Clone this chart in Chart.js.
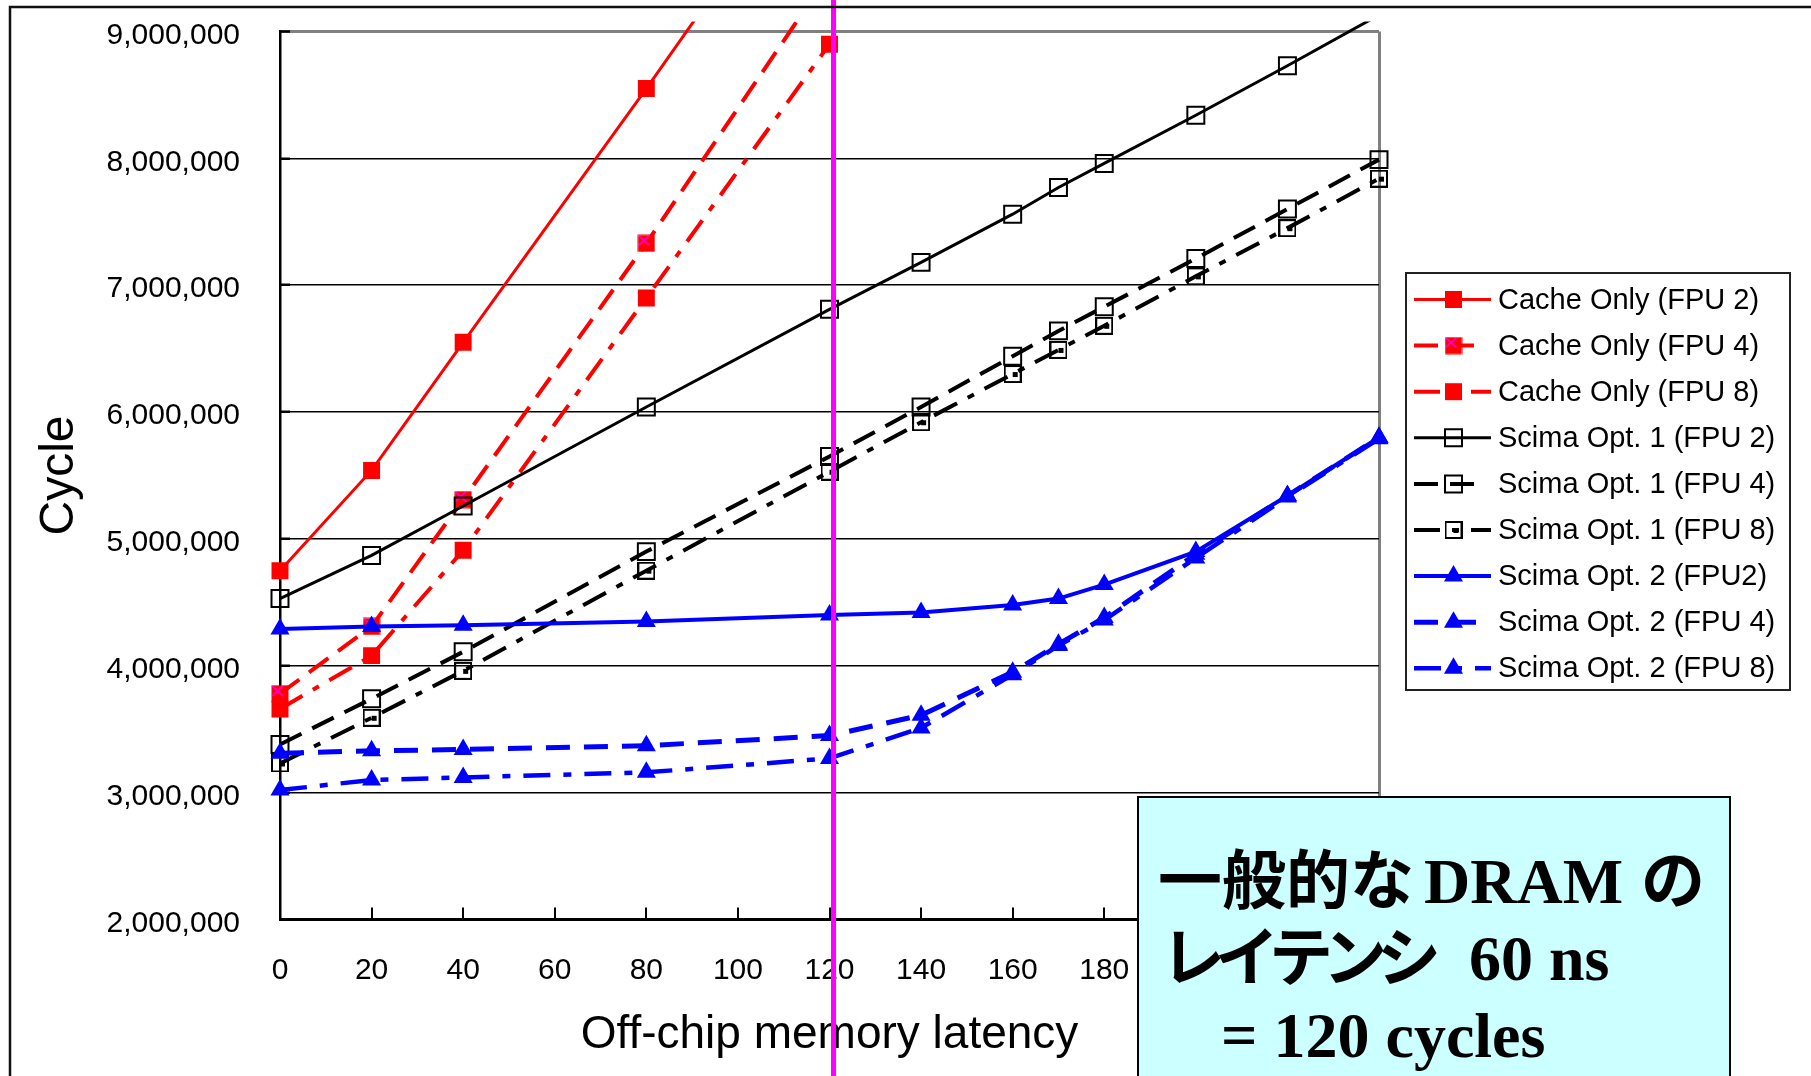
<!DOCTYPE html>
<html>
<head>
<meta charset="utf-8">
<script src="https://cdn.jsdelivr.net/npm/chart.js@4.4.1/dist/chart.umd.min.js"></script>
<style>
  html, body { margin: 0; padding: 0; background: #fff; }
  canvas { display: block; }
</style>
</head>
<body>
<canvas id="chart" width="1811" height="1076"></canvas>
<script>
// off-chip latency (cycles) on the x axis
const latency = [0, 20, 40, 80, 120, 140, 160, 170, 180, 200, 220, 240];

// total cycles per configuration
const cacheFpu2 = [4750000, 5540000, 6550000, 8550000, 10600000, null, null, null, null, null, null, null];
const cacheFpu4 = [3780000, 4310000, 5310000, 7330000, 9460000, null, null, null, null, null, null, null];
const cacheFpu8 = [3660000, 4080000, 4910000, 6900000, 8900000, null, null, null, null, null, null, null];
const scima1Fpu2 = [4530000, 4870000, 5260000, 6040000, 6810000, 7180000, 7560000, 7770000, 7960000, 8340000, 8730000, 9130000];
const scima1Fpu4 = [3380000, 3740000, 4110000, 4900000, 5650000, 6040000, 6440000, 6640000, 6830000, 7210000, 7600000, 7990000];
const scima1Fpu8 = [3230000, 3590000, 3960000, 4750000, 5530000, 5920000, 6300000, 6490000, 6680000, 7070000, 7450000, 7840000];
const scima2Fpu2 = [4290000, 4310000, 4320000, 4350000, 4400000, 4420000, 4480000, 4530000, 4640000, 4900000, 5340000, 5800000];
const scima2Fpu4 = [3310000, 3330000, 3340000, 3370000, 3450000, 3610000, 3950000, 4170000, 4380000, 4880000, 5340000, 5800000];
const scima2Fpu8 = [3020000, 3100000, 3120000, 3160000, 3270000, 3510000, 3930000, 4160000, 4360000, 4850000, 5330000, 5790000];

const seriesLabels = [
  "Cache Only (FPU 2)", "Cache Only (FPU 4)", "Cache Only (FPU 8)",
  "Scima Opt. 1 (FPU 2)", "Scima Opt. 1 (FPU 4)", "Scima Opt. 1 (FPU 8)",
  "Scima Opt. 2 (FPU2)", "Scima Opt. 2 (FPU 4)", "Scima Opt. 2 (FPU 8)"
];

const yTicks = { min: 2000000, max: 9000000, step: 1000000 };
const xTicks = { min: 0, max: 240, step: 20 };
const dramLatency = 120;

const RED = "#ff0000";
const BLACK = "#000000";
const BLUE = "#0000ff";
const SANS = '"Liberation Sans", Arial, sans-serif';

// small canvases for the two odd markers
function makeMarker(draw) {
  const c = document.createElement("canvas");
  c.width = 18;
  c.height = 18;
  draw(c.getContext("2d"));
  return c;
}
const redSquareX = makeMarker(g => {
  g.fillStyle = RED;
  g.fillRect(0.5, 0.5, 17, 17);
  g.strokeStyle = "#ff00ff";
  g.lineWidth = 1.5;
  g.beginPath();
  g.moveTo(1, 1); g.lineTo(12, 11);
  g.moveTo(12, 1); g.lineTo(1, 11);
  g.stroke();
});
const squareDot = makeMarker(g => {
  g.strokeStyle = BLACK;
  g.lineWidth = 2;
  g.strokeRect(1, 1, 16, 16);
  g.fillStyle = BLACK;
  g.fillRect(9, 7, 5, 5);
});

function toPoints(values) {
  return latency.map((x, i) => ({ x, y: values[i] }));
}

// legendEnd: where the little sample line in the legend stops
const styles = [
  { values: cacheFpu2, color: RED, width: 3, dash: [], point: "rect", radius: 12, fill: RED, pbw: 0, legendEnd: 1491 },
  { values: cacheFpu4, color: RED, width: 4, dash: [24, 12], point: redSquareX, radius: 9, fill: RED, pbw: 0, legendEnd: 1476 },
  { values: cacheFpu8, color: RED, width: 4, dash: [26, 12, 7, 12], point: "rect", radius: 12, fill: RED, pbw: 0, legendEnd: 1491 },
  { values: scima1Fpu2, color: BLACK, width: 3, dash: [], point: "rect", radius: 12, fill: "rgba(0,0,0,0)", pbw: 2, legendEnd: 1491 },
  { values: scima1Fpu4, color: BLACK, width: 4, dash: [24, 12], point: "rect", radius: 12, fill: "rgba(0,0,0,0)", pbw: 2, legendEnd: 1476 },
  { values: scima1Fpu8, color: BLACK, width: 4, dash: [26, 12, 7, 12], point: squareDot, radius: 9, fill: "rgba(0,0,0,0)", pbw: 2, legendEnd: 1491 },
  { values: scima2Fpu2, color: BLUE, width: 4, dash: [], point: "triangle", radius: 11, fill: BLUE, pbw: 0, legendEnd: 1491 },
  { values: scima2Fpu4, color: BLUE, width: 5, dash: [24, 14], point: "triangle", radius: 11, fill: BLUE, pbw: 0, legendEnd: 1476 },
  { values: scima2Fpu8, color: BLUE, width: 4.5, dash: [27, 13, 8, 13], point: "triangle", radius: 11, fill: BLUE, pbw: 0, legendEnd: 1491 }
];

const datasets = styles.map((s, i) => ({
  label: seriesLabels[i],
  data: toPoints(s.values),
  borderColor: s.color,
  borderWidth: s.width,
  borderDash: s.dash,
  pointStyle: s.point,
  pointRadius: s.radius,
  pointBackgroundColor: s.fill,
  pointBorderColor: s.color,
  pointBorderWidth: s.pbw,
  tension: 0,
  spanGaps: false,
  order: styles.length - i,
  clip: { left: 15, top: 10, right: 15, bottom: 15 }
}));

// legend box, the cyan note, the magenta DRAM line and the slide frame
const slideExtras = {
  id: "slideExtras",
  afterDraw(chart) {
    const ctx = chart.ctx;
    const x = chart.scales.x;

    // legend
    ctx.save();
    ctx.fillStyle = "#fff";
    ctx.fillRect(1406, 273, 384, 417);
    ctx.strokeStyle = "#222";
    ctx.lineWidth = 2;
    ctx.strokeRect(1406, 273, 384, 417);
    styles.forEach((s, i) => {
      const y = 299.5 + i * 46.1;
      ctx.save();
      ctx.strokeStyle = s.color;
      ctx.lineWidth = s.width;
      ctx.setLineDash(s.dash);
      ctx.beginPath();
      ctx.moveTo(1414, y);
      ctx.lineTo(s.legendEnd, y);
      ctx.stroke();
      ctx.restore();
      ctx.save();
      ctx.fillStyle = s.fill;
      ctx.strokeStyle = s.color;
      ctx.lineWidth = s.pbw;
      Chart.helpers.drawPoint(ctx, { pointStyle: s.point, radius: s.radius, rotation: 0, borderWidth: s.pbw }, 1453.5, y);
      ctx.restore();
      ctx.fillStyle = BLACK;
      ctx.font = "29px " + SANS;
      ctx.textAlign = "left";
      ctx.textBaseline = "middle";
      ctx.fillText(seriesLabels[i], 1498, y + 1);
    });
    ctx.restore();

    // note box
    ctx.save();
    ctx.fillStyle = "#ccffff";
    ctx.fillRect(1138, 797, 592, 290);
    ctx.strokeStyle = BLACK;
    ctx.lineWidth = 2;
    ctx.strokeRect(1138, 797, 592, 290);
    const jp = 'bold 64px "Noto Sans CJK JP", sans-serif';
    const lat = 'bold 64px "Liberation Serif", "Times New Roman", serif';
    ctx.fillStyle = BLACK;
    ctx.textAlign = "left";
    ctx.textBaseline = "alphabetic";
    ctx.font = jp;
    ctx.fillText("一般的な", 1158, 903);
    ctx.font = lat;
    ctx.fillText("DRAM", 1424, 903);
    ctx.font = jp;
    ctx.fillText("の", 1641, 903);
    // katakana on the slide are set tighter
    let cx = 1161;
    for (const ch of "レイテンシ") {
      ctx.fillText(ch, cx, 980);
      cx += ctx.measureText(ch).width - 10;
    }
    ctx.font = lat;
    ctx.fillText("60 ns", 1469, 980);
    ctx.fillText("= 120 cycles", 1221, 1057);
    ctx.restore();

    // DRAM latency marker (sits a hair right of the 120 tick on the slide)
    ctx.save();
    ctx.strokeStyle = "#ff00ff";
    ctx.lineWidth = 5;
    const px = x.getPixelForValue(dramLatency) + 4;
    ctx.beginPath();
    ctx.moveTo(px, 0);
    ctx.lineTo(px, chart.height);
    ctx.stroke();
    ctx.restore();

    // slide frame
    ctx.save();
    ctx.strokeStyle = "#111";
    ctx.lineWidth = 2.5;
    ctx.beginPath();
    ctx.moveTo(10, chart.height);
    ctx.lineTo(10, 7);
    ctx.lineTo(chart.width, 7);
    ctx.stroke();
    ctx.restore();
  }
};

const whiteBg = {
  id: "whiteBg",
  beforeDraw(chart) {
    const ctx = chart.ctx;
    ctx.save();
    ctx.fillStyle = "#fff";
    ctx.fillRect(0, 0, chart.width, chart.height);
    ctx.restore();
  }
};

new Chart(document.getElementById("chart"), {
  type: "line",
  data: { datasets },
  plugins: [whiteBg, slideExtras],
  options: {
    responsive: false,
    animation: false,
    devicePixelRatio: 1,
    layout: { padding: { top: 31.5, right: 432, left: 0, bottom: 0 } },
    plugins: { legend: { display: false }, tooltip: { enabled: false } },
    scales: {
      x: {
        type: "linear",
        min: xTicks.min,
        max: xTicks.max,
        afterFit(scale) {
          scale.height = 156.5;
          scale.paddingLeft = 0;
          scale.paddingRight = 0;
        },
        ticks: {
          stepSize: xTicks.step,
          autoSkip: false,
          maxRotation: 0,
          padding: 45,
          color: BLACK,
          font: { family: SANS, size: 30, lineHeight: 1.2 }
        },
        grid: {
          color: "#808080",
          lineWidth: c => (c.tick && c.tick.value === xTicks.max ? 3 : 0),
          tickColor: BLACK,
          tickWidth: 2,
          tickLength: -12,
          drawTicks: true
        },
        border: { color: BLACK, width: 3 },
        title: {
          display: true,
          text: "Off-chip memory latency",
          color: BLACK,
          font: { family: SANS, size: 46, lineHeight: 1.2 },
          padding: { top: 0, bottom: 13 }
        }
      },
      y: {
        min: yTicks.min,
        max: yTicks.max,
        afterFit(scale) {
          scale.width = 280;
          scale.paddingTop = 0;
          scale.paddingBottom = 0;
        },
        ticks: {
          stepSize: yTicks.step,
          padding: 50,
          labelOffset: 4,
          color: BLACK,
          font: { family: SANS, size: 30, lineHeight: 1.2 },
          callback: v => Number(v).toLocaleString("en-US")
        },
        grid: {
          color: c => (c.tick && c.tick.value === yTicks.max ? "#808080" : BLACK),
          lineWidth: c => (c.tick && c.tick.value === yTicks.max ? 3 : 1.5),
          tickColor: BLACK,
          tickWidth: 2.5,
          tickLength: -10,
          drawTicks: true
        },
        border: { color: BLACK, width: 2.5 },
        title: {
          display: true,
          text: "Cycle",
          color: BLACK,
          font: { family: SANS, size: 48, lineHeight: 1.2 },
          padding: { top: 31, bottom: 0 }
        }
      }
    }
  }
});
</script>
</body>
</html>
